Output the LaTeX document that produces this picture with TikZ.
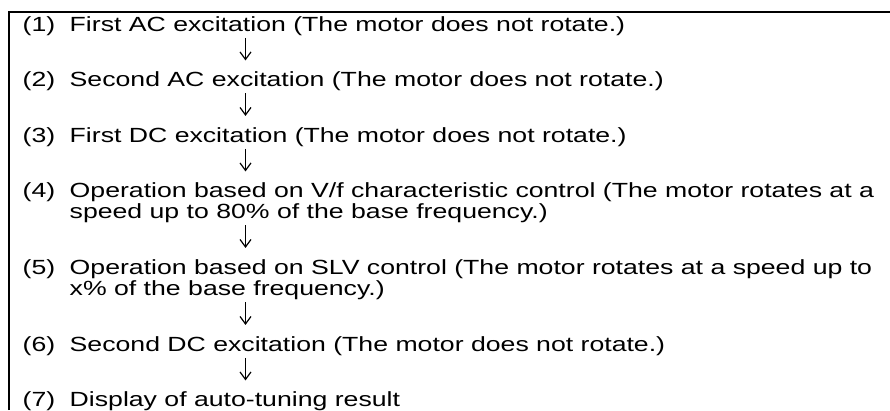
\documentclass[tikz,border=0pt]{standalone}
\usepackage{fontspec}
\setmainfont[FakeStretch=1.30]{Liberation Sans}
\usetikzlibrary{arrows.meta}
\begin{document}
\begin{tikzpicture}[x=1pt,y=1pt,>={Straight Barb[length=7.5pt,width=11pt]},
  num/.style={anchor=base west,inner sep=0pt,font=\fontsize{20.5}{20.5}\selectfont},
  txt/.style={anchor=base west,inner sep=0pt,font=\fontsize{20.5}{20.5}\selectfont},
  down/.style={->,line width=1.2pt}]
\useasboundingbox (0,0) rectangle (890,-410);
\draw[line width=2pt] (8.5,-410) |- (890,-12);
\coordinate (ax) at (245.5,0);
\node[num] (n1) at (22.5,-31) {(1)};
\node[txt] (t1) at (69.5,-31) {First AC excitation (The motor does not rotate.)};
\node[num] (n2) at (22.5,-86.5) {(2)};
\node[txt] (t2) at (69.5,-86.5) {Second AC excitation (The motor does not rotate.)};
\node[num] (n3) at (22.5,-142) {(3)};
\node[txt] (t3) at (69.5,-142) {First DC excitation (The motor does not rotate.)};
\node[num] (n4) at (22.5,-197.5) {(4)};
\node[txt] (t4) at (69.5,-197.5) {Operation based on V/f characteristic control (The motor rotates at a};
\node[txt] (t4b) at (69.5,-218.5) {speed up to 80\% of the base frequency.)};
\node[num] (n5) at (22.5,-274.5) {(5)};
\node[txt] (t5) at (69.5,-274.5) {Operation based on SLV control (The motor rotates at a speed up to};
\node[txt] (t5b) at (69.5,-295.5) {x\% of the base frequency.)};
\node[num] (n6) at (22.5,-351) {(6)};
\node[txt] (t6) at (69.5,-351) {Second DC excitation (The motor does not rotate.)};
\node[num] (n7) at (22.5,-406.5) {(7)};
\node[txt] (t7) at (69.5,-406.5) {Display of auto-tuning result};
\draw[down] (t1.south -| ax) ++(0,-2.5) -- ++(0,-22.5);
\draw[down] (t2.south -| ax) ++(0,-2.5) -- ++(0,-22.5);
\draw[down] (t3.south -| ax) ++(0,-2.5) -- ++(0,-22.5);
\draw[down] (t4b.south -| ax) ++(0,-2.5) -- ++(0,-22.5);
\draw[down] (t5b.south -| ax) ++(0,-2.5) -- ++(0,-22.5);
\draw[down] (t6.south -| ax) ++(0,-2.5) -- ++(0,-22.5);
\end{tikzpicture}
\end{document}
